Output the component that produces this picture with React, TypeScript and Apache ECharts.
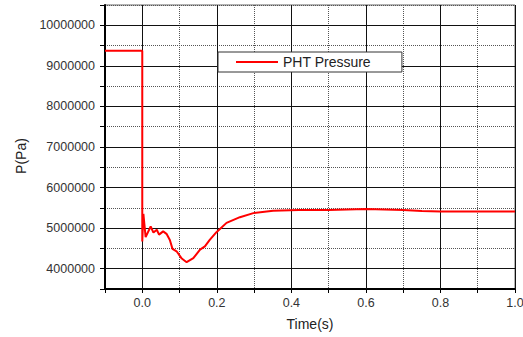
import React, { useEffect, useRef } from "react";
import * as echarts from "echarts";

const times = [-0.1, 0, 0, 0.003, 0.009, 0.0225, 0.03, 0.039, 0.045, 0.056, 0.065, 0.074, 0.081, 0.092, 0.106, 0.119, 0.137, 0.155, 0.168, 0.181, 0.199, 0.226, 0.262, 0.298, 0.351, 0.42, 0.5, 0.6, 0.7, 0.75, 0.8, 0.9, 1.0];
const pressures = [9.37e6, 9.37e6, 4.67e6, 5.35e6, 4.78e6, 5.04e6, 4.89e6, 4.96e6, 4.84e6, 4.92e6, 4.86e6, 4.71e6, 4.49e6, 4.43e6, 4.25e6, 4.16e6, 4.26e6, 4.47e6, 4.55e6, 4.71e6, 4.9e6, 5.13e6, 5.27e6, 5.37e6, 5.43e6, 5.45e6, 5.45e6, 5.47e6, 5.45e6, 5.42e6, 5.41e6, 5.41e6, 5.41e6];
const xTickLabels = ["0.0", "0.2", "0.4", "0.6", "0.8", "1.0"];
const yTickLabels = ["4000000", "5000000", "6000000", "7000000", "8000000", "9000000", "10000000"];
const seriesName = "PHT Pressure";

const FONT = "'Liberation Sans', Arial, sans-serif";

export default function App() {
  const ref = useRef<HTMLDivElement>(null);
  useEffect(() => {
    document.body.style.margin = "0";
    const chart = echarts.init(ref.current!, null, { renderer: "svg" });
    const xLabel = (v: number) => {
      const s = v.toFixed(1);
      return xTickLabels.includes(s) ? s : "";
    };
    const yLabel = (v: number) => {
      const s = String(Math.round(v));
      return yTickLabels.includes(s) ? s : "";
    };
    const xRange = { type: "value", min: -0.1, max: 1.0, interval: 0.1 };
    const yRange = { type: "value", min: 3500000, max: 10500000, interval: 500000 };
    chart.setOption({
      animation: false,
      backgroundColor: "#fff",
      grid: {
        left: 105,
        right: 8,
        top: 5,
        bottom: 48,
        show: true,
        borderColor: "#666",
        borderWidth: 1,
        backgroundColor: "transparent",
        containLabel: false,
        outerBoundsMode: "none",
      },
      legend: {
        left: 218,
        top: 52,
        itemWidth: 42,
        itemHeight: 2,
        itemGap: 4,
        padding: [3, 31, 3, 18],
        backgroundColor: "#fff",
        borderColor: "#333",
        borderWidth: 1,
        textStyle: { fontFamily: FONT, fontSize: 14, color: "#222", padding: [0, 0, 0, 0] },
        data: [{ name: seriesName, icon: "rect" }],
      },
      xAxis: [
        {
          ...xRange,
          name: "Time(s)",
          nameLocation: "middle",
          nameGap: 28,
          nameTextStyle: { fontFamily: FONT, fontSize: 14, color: "#222" },
          axisLine: { onZero: false, lineStyle: { color: "#000", width: 2 } },
          axisTick: { show: true, length: 4, lineStyle: { color: "#000" } },
          axisLabel: { formatter: xLabel, fontFamily: FONT, fontSize: 12.5, color: "#333", margin: 7 },
          splitLine: { show: true, lineStyle: { color: "#555", type: "dotted", width: 1 } },
          z: 1,
        },
        {
          ...xRange,
          position: "bottom",
          axisLine: { show: false },
          axisTick: { show: false },
          axisLabel: { show: false },
          splitLine: { show: true, lineStyle: { color: ["rgba(0,0,0,0)", "#111"], type: "solid", width: 1 } },
          z: 2,
        },
      ],
      yAxis: [
        {
          ...yRange,
          name: "P(Pa)",
          nameLocation: "middle",
          nameGap: 73,
          nameRotate: 90,
          nameTextStyle: { fontFamily: FONT, fontSize: 14, color: "#222", padding: [0, 18, 0, 0] },
          axisLine: { show: true, onZero: false, lineStyle: { color: "#000", width: 2 } },
          axisTick: { show: true, length: 5, lineStyle: { color: "#000" } },
          axisLabel: { formatter: yLabel, fontFamily: FONT, fontSize: 12.5, color: "#333", margin: 10 },
          splitLine: { show: true, lineStyle: { color: "#555", type: "dotted", width: 1 } },
          z: 1,
        },
        {
          ...yRange,
          position: "left",
          axisLine: { show: false },
          axisTick: { show: false },
          axisLabel: { show: false },
          splitLine: { show: true, lineStyle: { color: ["rgba(0,0,0,0)", "#111"], type: "solid", width: 1 } },
          z: 2,
        },
      ],
      series: [
        {
          name: seriesName,
          type: "line",
          xAxisIndex: 0,
          yAxisIndex: 0,
          symbol: "none",
          smooth: false,
          lineStyle: { color: "#ff0000", width: 2 },
          itemStyle: { color: "#ff0000" },
          data: times.map((t, i) => [t, pressures[i]]),
          z: 3,
        },
      ],
    });
    return () => chart.dispose();
  }, []);
  return <div ref={ref} style={{ width: 523, height: 337 }} />;
}
